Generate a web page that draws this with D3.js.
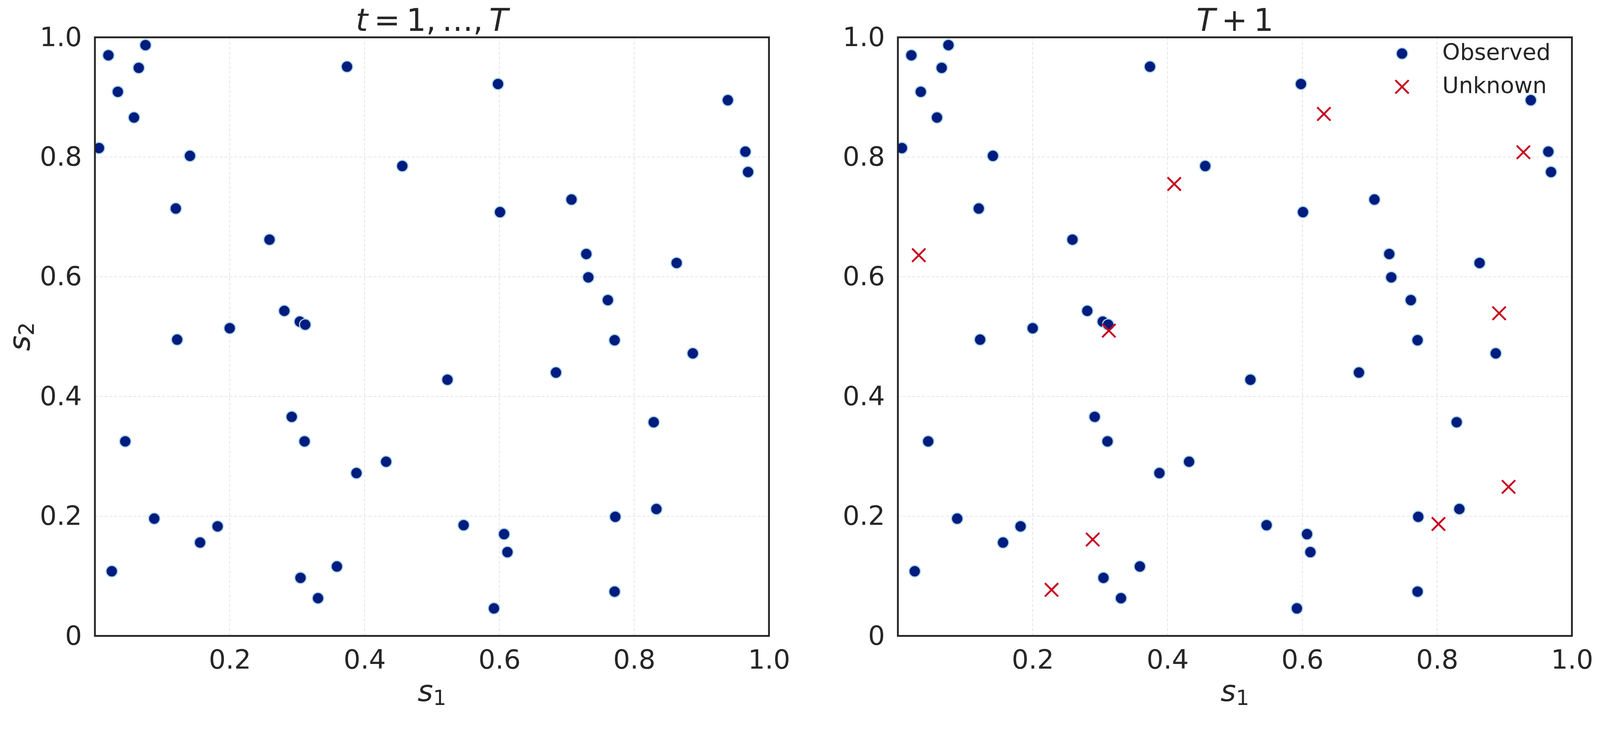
<!DOCTYPE html>
<html>
    <head>
        <meta charset="utf-8">
        <style>
            html, body {
                margin: 0;
                padding: 0;
                overflow: hidden;
                background: white;
            }
            #svg {
                display: block;
                width: 100vw;
                height: 100vh;
            }
            svg text {
                font-family: "DejaVu Sans", sans-serif;
                fill: #262626;
            }
            .tick text {
                font-size: 72px;
            }
        </style>
    </head>
    <body>
        <svg id="svg"></svg>
    </body>
</html>

<script src="https://d3js.org/d3.v7.min.js"></script>

<script>
    // observed points (same in both panels)
    let obsS1 = [0.020, 0.075, 0.065, 0.034, 0.058, 0.006, 0.141, 0.374, 0.456, 0.120,
                 0.259, 0.281, 0.304, 0.312, 0.200, 0.598, 0.939, 0.965, 0.969, 0.707,
                 0.601, 0.729, 0.863, 0.732, 0.761, 0.122, 0.292, 0.311, 0.045, 0.432,
                 0.388, 0.088, 0.182, 0.156, 0.025, 0.359, 0.305, 0.331, 0.771, 0.887,
                 0.684, 0.523, 0.829, 0.833, 0.772, 0.547, 0.607, 0.612, 0.771, 0.592];
    let obsS2 = [0.970, 0.987, 0.949, 0.909, 0.866, 0.815, 0.802, 0.951, 0.785, 0.714,
                 0.662, 0.543, 0.525, 0.520, 0.514, 0.922, 0.895, 0.809, 0.775, 0.729,
                 0.708, 0.638, 0.623, 0.599, 0.561, 0.495, 0.366, 0.325, 0.325, 0.291,
                 0.272, 0.196, 0.183, 0.156, 0.108, 0.116, 0.097, 0.063, 0.494, 0.472,
                 0.440, 0.428, 0.357, 0.212, 0.199, 0.185, 0.170, 0.140, 0.074, 0.046];

    // unknown points (only in T+1 panel)
    let unkS1 = [0.632, 0.928, 0.410, 0.031, 0.892, 0.313, 0.906, 0.802, 0.289, 0.228];
    let unkS2 = [0.872, 0.808, 0.755, 0.636, 0.539, 0.510, 0.249, 0.187, 0.161, 0.077];

    let xTicks = [0.2, 0.4, 0.6, 0.8, 1.0];
    let yTicks = [0, 0.2, 0.4, 0.6, 0.8, 1.0];
    let gridTicks = [0.2, 0.4, 0.6, 0.8];
    let legendLabels = ['Observed', 'Unknown'];

    let visWidth = 4332;
    let visHeight = 1932;
    let plotW = 1825;
    let plotH = 1620;
    let plotTop = 101;

    let navy = '#001c7f';
    let edge = '#add8e6';
    let red = '#c8001e';

    let observed = obsS1.map((d, i) => ({s1: d, s2: obsS2[i]}));
    let unknown = unkS1.map((d, i) => ({s1: d, s2: unkS2[i]}));

    // scale to whatever the viewport really is, pinned to the top
    let svg = d3.select('#svg')
        .attr('viewBox', `0 0 ${visWidth} ${visHeight}`)
        .attr('preserveAspectRatio', 'xMidYMin meet');

    let xScale = d3.scaleLinear().domain([0, 1]).range([0, plotW]);
    let yScale = d3.scaleLinear().domain([0, 1]).range([plotH, 0]);

    let fmt = d => d === 0 ? '0' : d.toFixed(1);

    function drawX(g, cx, cy, h) {
        g.append('path')
            .attr('d', `M${cx - h},${cy - h}L${cx + h},${cy + h}M${cx - h},${cy + h}L${cx + h},${cy - h}`)
            .attr('stroke', red)
            .attr('stroke-width', 5)
            .attr('fill', 'none');
    }

    function drawPanel(left, idx, showUnknown) {
        let g = svg.append('g').attr('transform', `translate(${left}, ${plotTop})`);

        g.append('clipPath').attr('id', 'clip' + idx)
            .append('rect').attr('width', plotW).attr('height', plotH);

        // grid
        g.selectAll('.vgrid').data(gridTicks).enter().append('line')
            .attr('x1', d => xScale(d)).attr('x2', d => xScale(d))
            .attr('y1', 0).attr('y2', plotH)
            .attr('stroke', '#e2e2e2').attr('stroke-width', 2)
            .attr('stroke-dasharray', '8,5');
        g.selectAll('.hgrid').data(gridTicks).enter().append('line')
            .attr('x1', 0).attr('x2', plotW)
            .attr('y1', d => yScale(d)).attr('y2', d => yScale(d))
            .attr('stroke', '#e2e2e2').attr('stroke-width', 2)
            .attr('stroke-dasharray', '8,5');

        // axes (no tick marks, only labels)
        let xAxis = d3.axisBottom(xScale).tickValues(xTicks).tickFormat(fmt)
            .tickSize(0).tickPadding(38);
        let yAxis = d3.axisLeft(yScale).tickValues(yTicks).tickFormat(fmt)
            .tickSize(0).tickPadding(35);

        let xg = g.append('g').attr('transform', `translate(0, ${plotH})`).call(xAxis);
        let yg = g.append('g').call(yAxis);
        xg.select('.domain').remove();
        yg.select('.domain').remove();
        svg.selectAll('.tick text').attr('fill', '#262626').style('font-family', '"DejaVu Sans", sans-serif');

        let pts = g.append('g').attr('clip-path', `url(#clip${idx})`);

        pts.selectAll('circle')
            .data(observed)
            .enter()
            .append('circle')
                .attr('cx', d => xScale(d.s1))
                .attr('cy', d => yScale(d.s2))
                .attr('r', 15.5)
                .attr('fill', navy)
                .attr('stroke', edge)
                .attr('stroke-width', 3);

        if (showUnknown) {
            unknown.forEach(d => drawX(pts, xScale(d.s1), yScale(d.s2), 18));
        }

        // frame
        g.append('rect')
            .attr('width', plotW).attr('height', plotH)
            .attr('fill', 'none')
            .attr('stroke', '#262626')
            .attr('stroke-width', 5);

        // x label
        let xl = g.append('text')
            .attr('x', plotW / 2)
            .attr('y', 1897 - plotTop)
            .attr('text-anchor', 'middle')
            .style('font-size', '80px');
        xl.append('tspan').text('s').style('font-style', 'italic');
        xl.append('tspan').text('1').attr('dy', 11).style('font-size', '56px');

        // y label
        let yl = g.append('text')
            .attr('transform', `translate(${80 - left}, ${plotH / 2}) rotate(-90)`)
            .attr('text-anchor', 'middle')
            .style('font-size', '80px');
        yl.append('tspan').text('s').style('font-style', 'italic');
        yl.append('tspan').text('2').attr('dy', 11).style('font-size', '56px');

        return g;
    }

    let g1 = drawPanel(257, 1, false);
    let g2 = drawPanel(2431, 2, true);

    // titles
    let t1 = g1.append('text')
        .attr('x', plotW / 2).attr('y', 84 - plotTop)
        .attr('text-anchor', 'middle')
        .style('font-size', '84px');
    t1.append('tspan').text('t').style('font-style', 'italic');
    t1.append('tspan').text('\u2009=\u20091,\u2009\u2026,\u2009');
    t1.append('tspan').text('T').style('font-style', 'italic');

    let t2 = g2.append('text')
        .attr('x', plotW / 2).attr('y', 84 - plotTop)
        .attr('text-anchor', 'middle')
        .style('font-size', '84px');
    t2.append('tspan').text('T').style('font-style', 'italic');
    t2.append('tspan').text('\u2009+\u20091');

    // legend
    let leg = svg.append('g').attr('transform', 'translate(3796, 145)');
    leg.append('circle')
        .attr('cx', 0).attr('cy', 0).attr('r', 15.5)
        .attr('fill', navy).attr('stroke', edge).attr('stroke-width', 3);
    drawX(leg, 0, 90, 18);
    leg.selectAll('.leglabel')
        .data(legendLabels)
        .enter()
        .append('text')
            .attr('x', 109)
            .attr('y', (d, i) => 17 + i * 90)
            .text(d => d)
            .style('font-size', '61px');
</script>
